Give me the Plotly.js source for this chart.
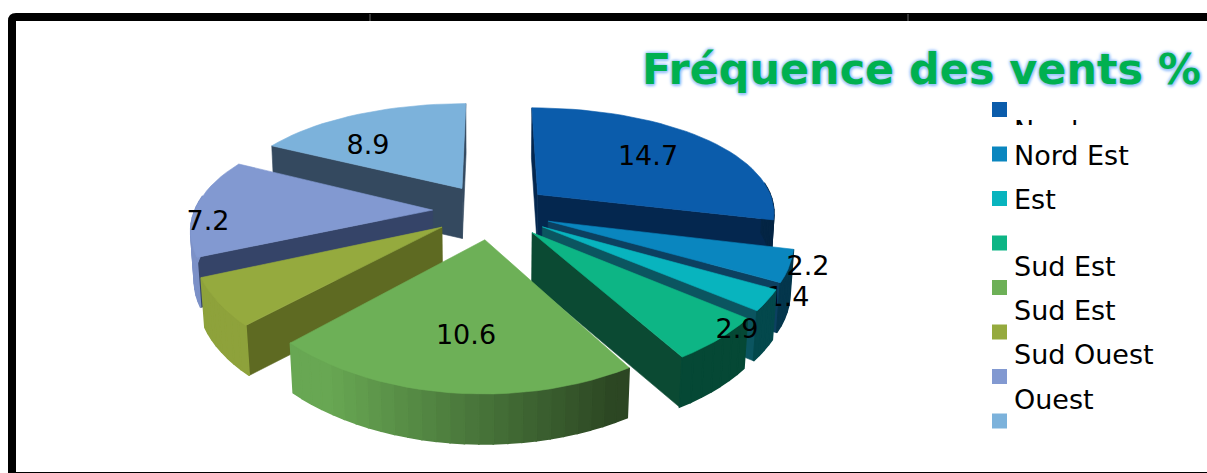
<!DOCTYPE html>
<html>
<head>
<meta charset="utf-8">
<script src="https://cdn.plot.ly/plotly-3.0.1.min.js"></script>
<style>html,body{margin:0;padding:0;background:#fff}#chart{width:1207px;height:473px}</style>
</head>
<body>
<div id="chart"></div>
<script>
// Wind direction frequencies (%), clockwise from north
const sectors = ['Nord', 'Nord Est', 'Est', 'Sud Est', 'Sud', 'Sud Ouest', 'Ouest', 'Nord Ouest'];
const frequencies = [14.7, 2.2, 1.4, 2.9, 10.6, 3.2, 7.2, 8.9];
const valueLabels = ['14.7', '2.2', '1.4', '2.9', '10.6', '', '7.2', '8.9'];
const legendLabels = ['Nord', 'Nord Est', 'Est', 'Sud Est', 'Sud Est', 'Sud Ouest', 'Ouest', ''];
const topColors = ['#0B5CAB', '#0A86BF', '#08B4BE', '#0DB585', '#6DB057', '#95AA3E', '#8299D1', '#7CB2DB'];
const wallColors = ['#04274F', '#0C4060', '#0B5560', '#0B4A33', '#33441F', '#5E6A22', '#354468', '#34495F'];

// Anchors of the text, in axis units
const labelX = [648, 808, 788, 737, 466, 0, 208, 368];
const labelY = [158, 268, 299, 331, 337, 0, 223, 147];
const legendTextY = [133, 158, 202, 269, 313, 357, 402, 443];

// Tilted-disc projection
const cx = 492, cy = 211, R = 238, K = 110, px = 0.15, py = 0.2, depth = 50, sink = 0.012, explode = 0.25;
function project(u, v, z) {
  return [cx + R * u / (1 - px * v + sink * z), cy + K * v / (1 - py * v) + depth * z];
}

function hexToRgb(h) { return [1, 3, 5].map(i => parseInt(h.substr(i, 2), 16)); }
function darken(h, f) {
  const c = hexToRgb(h).map(x => Math.round(x * (1 - f)));
  return 'rgb(' + c.join(',') + ')';
}
function polygon(pts, color, edge) {
  return {
    type: 'scatter', mode: 'lines', fill: 'toself', fillcolor: color,
    x: pts.map(p => p[0]).concat(pts[0][0]), y: pts.map(p => p[1]).concat(pts[0][1]),
    line: {color: color, width: edge || 0.6}, hoverinfo: 'skip', showlegend: false
  };
}
function signedArea(pts) {
  let a = 0;
  pts.forEach((p, i) => { const q = pts[(i + 1) % pts.length]; a += p[0] * q[1] - q[0] * p[1]; });
  return a / 2;
}

const total = frequencies.reduce((a, b) => a + b, 0);
let start = 0;
const wedges = frequencies.map((f, i) => {
  const sweep = f / total * 2 * Math.PI;
  const w = {i, a0: start, a1: start + sweep};
  start += sweep;
  return w;
});

function sliceTraces(w) {
  const mid = (w.a0 + w.a1) / 2;
  const ou = explode * Math.sin(mid), ov = -explode * Math.cos(mid);
  const rim = a => [ou + Math.sin(a), ov - Math.cos(a)];
  const steps = Math.max(4, Math.round((w.a1 - w.a0) / 0.05));
  const angles = [];
  for (let s = 0; s <= steps; s++) angles.push(w.a0 + (w.a1 - w.a0) * s / steps);
  const out = [];

  // Radial walls, only the ones facing the viewer
  [w.a0, w.a1].forEach((a, k) => {
    const e = rim(a);
    const quad = [project(ou, ov, 0), project(e[0], e[1], 0), project(e[0], e[1], 1), project(ou, ov, 1)];
    const facing = signedArea(quad);
    if (k === 0 ? facing < 0 : facing > 0) out.push(polygon(quad, wallColors[w.i]));
  });

  // Outer wall, shaded strip by strip with light from the left
  for (let s = 0; s < steps; s++) {
    const p = rim(angles[s]), q = rim(angles[s + 1]);
    const am = (angles[s] + angles[s + 1]) / 2;
    if (Math.cos(am) > 0.12) continue;
    const shade = Math.min(0.6, Math.max(0.05, 0.35 + 0.55 * Math.sin(am)));
    out.push(polygon([project(p[0], p[1], 0), project(q[0], q[1], 0), project(q[0], q[1], 1), project(p[0], p[1], 1)],
      darken(topColors[w.i], shade), 1.6));
  }

  // Top face
  const top = [project(ou, ov, 0)].concat(angles.map(a => { const e = rim(a); return project(e[0], e[1], 0); }));
  out.push(polygon(top, topColors[w.i]));
  return out;
}

function textTrace(xs, ys, texts, extra) {
  return Object.assign({
    type: 'scatter', mode: 'text', x: xs, y: ys, text: texts, textposition: 'middle center',
    textfont: {family: '"DejaVu Sans", Verdana, sans-serif', size: 27, color: '#000'},
    hoverinfo: 'skip', showlegend: false, cliponaxis: false
  }, extra || {});
}

// Back-to-front painting order
const paintOrder = [7, 6, 5, 0, 1, 2, 3, 4];
const traces = [];
paintOrder.forEach(i => {
  // The 1.4 label sits behind its own slice
  if (i === 2) traces.push(textTrace([labelX[2]], [labelY[2]], [valueLabels[2]]));
  traces.push(...sliceTraces(wedges[i]));
});
const shown = [0, 1, 3, 4, 6, 7];
traces.push(textTrace(shown.map(i => labelX[i]), shown.map(i => labelY[i]), shown.map(i => valueLabels[i])));

// Legend swatches and captions
const legendSwatchX = 999.5, legendTextX = 1014;
traces.push({
  type: 'scatter', mode: 'markers', x: topColors.map(() => legendSwatchX),
  y: topColors.map((c, i) => 109.5 + 44.5 * i),
  marker: {symbol: 'square', size: 15, color: topColors}, hoverinfo: 'skip', showlegend: false
});
const captions = legendLabels.map((t, i) => i).slice(1).filter(i => legendLabels[i]);
traces.push(textTrace(captions.map(() => legendTextX), captions.map(i => legendTextY[i]),
  captions.map(i => legendLabels[i]), {textposition: 'middle right'}));
// The first caption is cut off by its own small clipped plot area
traces.push(textTrace([legendTextX], [legendTextY[0]], [legendLabels[0]],
  {textposition: 'middle right', cliponaxis: true, xaxis: 'x2', yaxis: 'y2'}));

const hidden = {visible: false, fixedrange: true};
const clipBottom = 125;
const layout = {
  width: 1207, height: 473, margin: {l: 0, r: 0, t: 0, b: 0},
  paper_bgcolor: '#fff', plot_bgcolor: 'rgba(0,0,0,0)', showlegend: false,
  xaxis: Object.assign({range: [0, 1207], domain: [0, 1]}, hidden),
  yaxis: Object.assign({range: [473, 0], domain: [0, 1]}, hidden),
  xaxis2: Object.assign({range: [0, 1207], domain: [0, 1], anchor: 'y2', overlaying: 'x'}, hidden),
  yaxis2: Object.assign({range: [clipBottom, 0], domain: [1 - clipBottom / 473, 1], anchor: 'x2'}, hidden),
  title: {
    text: '<b>Fréquence des vents %</b>', x: 642 / 1207, xanchor: 'left', xref: 'paper',
    y: 1 - 69 / 473, yanchor: 'middle', yref: 'paper',
    font: {family: '"DejaVu Sans", Verdana, sans-serif', size: 42.9, color: '#00B050',
      shadow: '0px 0px 3px #9CC4FA, 0px 0px 3px #9CC4FA, 0px 0px 4px #9CC4FA, 1px 2px 3px #A8CCFB'}
  },
  shapes: [
    {type: 'path', xref: 'x', yref: 'y', path: 'M 12,476 L 12,21 Q 12,17 16,17 L 1225,17 L 1225,476 Z',
      line: {color: '#000', width: 8}, fillcolor: 'rgba(0,0,0,0)', layer: 'below'},
    {type: 'line', xref: 'x', yref: 'y', x0: 370, x1: 370, y0: 14, y1: 21, line: {color: '#666', width: 1}},
    {type: 'line', xref: 'x', yref: 'y', x0: 908, x1: 908, y0: 14, y1: 21, line: {color: '#666', width: 1}}
  ]
};
Plotly.newPlot('chart', traces, layout, {displayModeBar: false, responsive: false});
</script>
</body>
</html>
